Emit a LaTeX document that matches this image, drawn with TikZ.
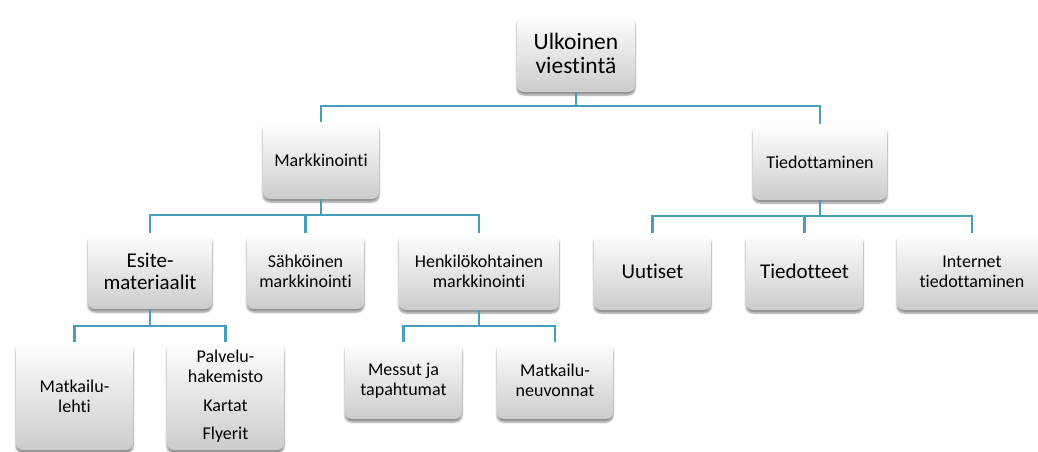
\documentclass[tikz,border=0pt]{standalone}
\usepackage{fontspec}
\setmainfont{Carlito}[Ligatures={NoCommon,NoContextual}]
\usetikzlibrary{shadows.blur}
\definecolor{linkteal}{RGB}{70,158,188}
\definecolor{boxgray}{RGB}{204,204,204}
\tikzset{
  card/.style={rounded corners=7pt, top color=white, bottom color=boxgray,
    draw=none, align=center, inner sep=2pt, text=black,
    blur shadow={shadow xshift=0pt, shadow yshift=-3pt, shadow blur steps=6,
      shadow blur extra rounding=2pt, shadow opacity=45}},
  link/.style={draw=linkteal, line width=2.3pt},
  big/.style={font=\fontsize{23.5}{24}\selectfont},
  mid/.style={font=\fontsize{21}{22}\selectfont},
  small/.style={font=\fontsize{18}{20}\selectfont},
}
\begin{document}
\begin{tikzpicture}[x=1pt,y=-1pt]
\useasboundingbox (0,0) rectangle (1038,451);

% heights of the horizontal bars of the tree
\coordinate (r1) at (0,106);
\coordinate (r2a) at (0,215);
\coordinate (r2b) at (0,216);
\coordinate (r3a) at (0,326);
\coordinate (r3b) at (0,326);

% cards
\node[card, big, minimum width=118pt, minimum height=77pt] (root) at (576,53.5) {Ulkoinen\\viestintä};
\node[card, small, minimum width=116pt, minimum height=77pt] (mark) at (321,160.5) {Markkinointi};
\node[card, small, minimum width=134pt, minimum height=76pt] (tied) at (820,162) {Tiedottaminen};

\node[card, mid, minimum width=124pt, minimum height=76pt] (esite) at (150,271) {Esite-\\materiaalit};
\node[card, small, minimum width=117pt, minimum height=76pt] (sahko) at (305.5,271) {Sähköinen\\markkinointi};
\node[card, small, minimum width=160pt, minimum height=77pt] (henk) at (479,271.5) {Henkilökohtainen\\markkinointi};

\node[card, mid, minimum width=117pt, minimum height=77pt] (uut) at (652.5,271.5) {Uutiset};
\node[card, mid, minimum width=117pt, minimum height=77pt] (tdt) at (804.5,271.5) {Tiedotteet};
\node[card, small, minimum width=150pt, minimum height=77pt] (inet) at (972,271.5) {Internet\\tiedottaminen};

\node[card, small, minimum width=117pt, minimum height=108pt] (lehti) at (74.5,396) {Matkailu-\\lehti};
\node[card, small, minimum width=117pt, minimum height=108pt] (palv) at (225.5,396) {Palvelu-\\hakemisto\\[9pt]Kartat\\[8pt]Flyerit};
\node[card, small, minimum width=117pt, minimum height=77pt] (messut) at (403.5,380.5) {Messut ja\\tapahtumat};
\node[card, small, minimum width=116pt, minimum height=77pt] (neuv) at (555,380.5) {Matkailu-\\neuvonnat};

% tree connectors
\draw[link] (root.south) -- (root.south |- r1) -| (mark.north);
\draw[link] (root.south) -- (root.south |- r1) -| (tied.north);

\draw[link] (mark.south) -- (mark.south |- r2a) -| (esite.north);
\draw[link] (mark.south) -- (mark.south |- r2a) -| (sahko.north);
\draw[link] (mark.south) -- (mark.south |- r2a) -| (henk.north);

\draw[link] (tied.south) -- (tied.south |- r2b) -| (uut.north);
\draw[link] (tied.south) -- (tied.south |- r2b) -| (tdt.north);
\draw[link] (tied.south) -- (tied.south |- r2b) -| (inet.north);

\draw[link] (esite.south) -- (esite.south |- r3a) -| (lehti.north);
\draw[link] (esite.south) -- (esite.south |- r3a) -| (palv.north);

\draw[link] (henk.south) -- (henk.south |- r3b) -| (messut.north);
\draw[link] (henk.south) -- (henk.south |- r3b) -| (neuv.north);
\end{tikzpicture}
\end{document}
